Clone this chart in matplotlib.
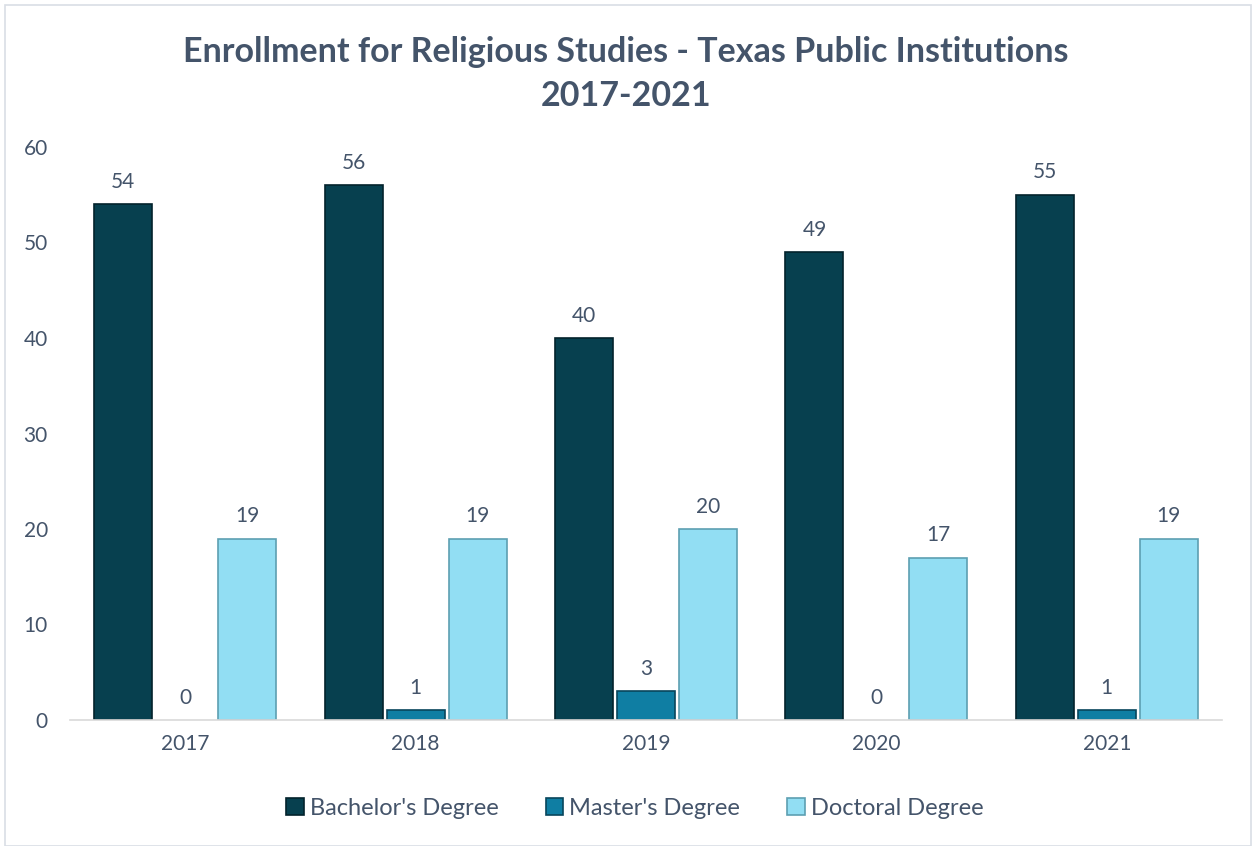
import matplotlib.pyplot as plt
from matplotlib.patches import Rectangle
import numpy as np

years = ["2017", "2018", "2019", "2020", "2021"]
bachelor = [54, 56, 40, 49, 55]
master = [0, 1, 3, 0, 1]
doctoral = [19, 19, 20, 17, 19]

series = [("Bachelor's Degree", bachelor, "#07404F", "#03222C"),
          ("Master's Degree", master, "#0F7EA3", "#08465C"),
          ("Doctoral Degree", doctoral, "#92DEF3", "#5D9FB2")]

plt.rcParams['font.family'] = ['Lato', 'DejaVu Sans']
txt = "#44546A"

fig = plt.figure(figsize=(12.52, 8.46), dpi=100)
fig.patches.append(Rectangle((0.004, 0.0), 0.995, 0.994, transform=fig.transFigure,
                             fill=False, edgecolor="#D9DEE5", linewidth=1.2))
ax = fig.add_axes([70 / 1252, 1 - 720 / 846, 1152 / 1252, 573 / 846])

x = np.arange(len(years))
w = 0.252
off = 0.269
for i, (name, vals, col, edge) in enumerate(series):
    pos = x + (i - 1) * off
    # zero-height bars get no outline, like the original
    lw = [1.2 if v else 0 for v in vals]
    ax.bar(pos, vals, w, color=col, edgecolor=edge, linewidth=lw, label=name)
    for p, v in zip(pos, vals):
        ax.text(p, v + 1.3, str(v), ha="center", va="bottom", fontsize=15, color=txt)

ax.set_xlim(-0.5, len(years) - 0.5)
ax.set_ylim(0, 60)
ax.set_yticks(range(0, 61, 10))
ax.set_xticks(x)
ax.set_xticklabels(years)
ax.tick_params(axis="both", length=0, labelsize=15, colors=txt)
ax.tick_params(axis="y", pad=16)
ax.tick_params(axis="x", pad=10)
for s in ["top", "right", "left"]:
    ax.spines[s].set_visible(False)
ax.spines["bottom"].set_color("#D9D9D9")
ax.spines["bottom"].set_linewidth(1.2)

fig.text(0.5, 1 - 52 / 846, "Enrollment for Religious Studies - Texas Public Institutions",
         ha="center", va="center", fontsize=24.5, fontweight="bold", color=txt)
fig.text(0.5, 1 - 96 / 846, "2017-2021",
         ha="center", va="center", fontsize=24.5, fontweight="bold", color=txt)

leg = fig.legend(loc="center", bbox_to_anchor=(0.507, 1 - 808 / 846), ncol=3, frameon=False,
                 fontsize=17, labelcolor=txt, handlelength=0.75, handleheight=0.75,
                 handletextpad=0.25, columnspacing=2.0)
for h, (_, _, col, edge) in zip(leg.legend_handles, series):
    h.set_linewidth(1.2)
    h.set_edgecolor(edge)

fig.savefig("out.png", dpi=100)
